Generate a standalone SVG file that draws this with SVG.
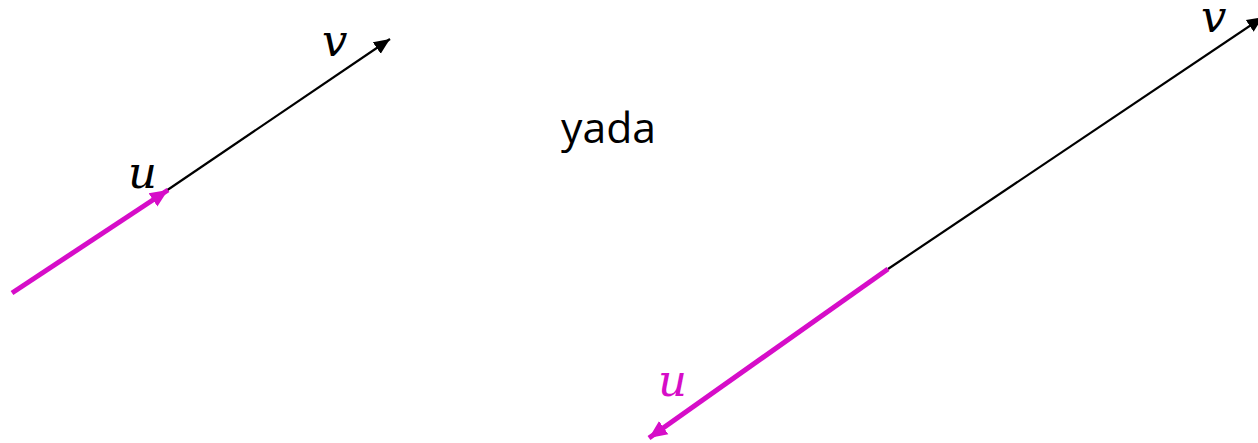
<svg xmlns="http://www.w3.org/2000/svg" width="1258" height="443" viewBox="0 0 1258 443">
<style>
.blk{stroke:#000;stroke-width:2.2;fill:none}
.mag{stroke:#d60dc8;stroke-width:5;fill:none}
.lbl{font-family:"DejaVu Serif","Liberation Serif",serif;font-style:italic;font-size:45px}
.yada{font-family:"Open Sans","Liberation Sans",sans-serif;font-size:42px;fill:#000}
</style>
<defs>
<marker id="ab" markerUnits="userSpaceOnUse" markerWidth="18" markerHeight="16" refX="16" refY="7" orient="auto" viewBox="0 0 18 14"><path d="M0,0 L16,7 L0,14 Z" fill="#000"/></marker>
<marker id="am" markerUnits="userSpaceOnUse" markerWidth="20" markerHeight="18" refX="18" refY="8" orient="auto" viewBox="0 0 20 16"><path d="M0,0 L18,8 L0,16 Z" fill="#d60dc8"/></marker>
</defs>
<g id="connectors">
<line class="blk" x1="163" y1="193" x2="390" y2="39" marker-end="url(#ab)"/>
<line class="mag" x1="12" y1="293" x2="168" y2="190" marker-end="url(#am)"/>
<line class="blk" x1="888" y1="269" x2="1263" y2="17" marker-end="url(#ab)"/>
<line class="mag" x1="888" y1="269" x2="649" y2="438" marker-end="url(#am)"/>
</g>
<g id="label-v1"><text class="lbl" x="322" y="56">v</text></g>
<g id="label-u1"><text class="lbl" x="128" y="188">u</text></g>
<g id="label-yada"><text class="yada" x="561" y="143" textLength="95" lengthAdjust="spacingAndGlyphs">yada</text></g>
<g id="label-v2"><text class="lbl" x="1201" y="32">v</text></g>
<g id="label-u2"><text class="lbl" x="658" y="396" fill="#d60dc8">u</text></g>
</svg>
